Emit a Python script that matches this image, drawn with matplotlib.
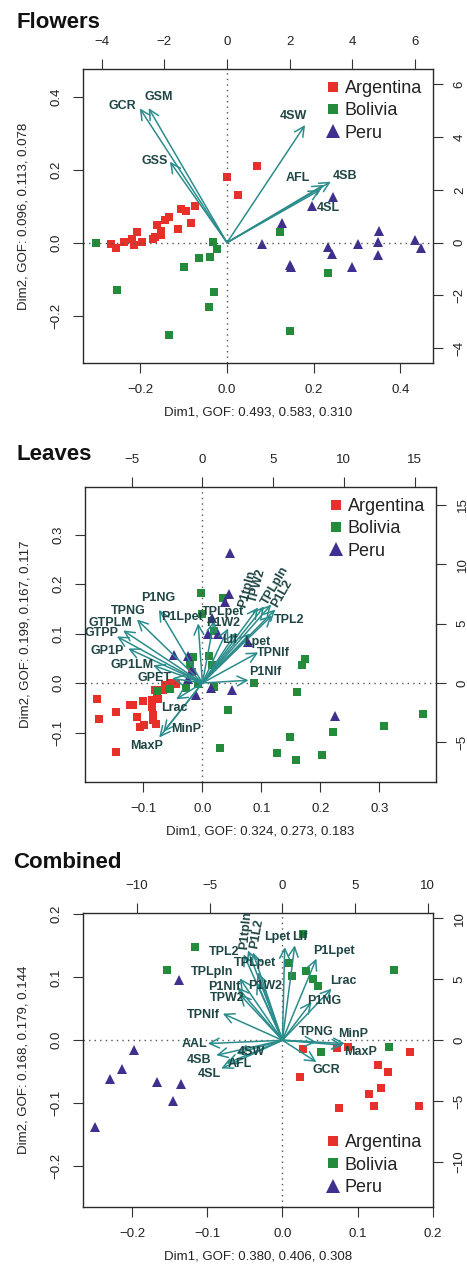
import numpy as np
import matplotlib
matplotlib.use('Agg')
import matplotlib.pyplot as plt
from matplotlib.patches import FancyArrowPatch
from matplotlib.lines import Line2D

plt.rcParams['font.family'] = ['Liberation Sans', 'DejaVu Sans']

FIG_W, FIG_H = 467, 1271

countries = ['Argentina', 'Bolivia', 'Peru']
country_colors = ['#e8302a', '#238b3a', '#3f2f8f']
country_markers = ['s', 's', '^']
arrow_color = '#2b8c8c'
label_color = '#1f4545'

# ---------------- Flowers ----------------
flw_arg = np.array([(0.000, 0.181), (0.069, 0.211), (0.026, 0.131), (-0.074, 0.100), (-0.095, 0.088),
                    (-0.106, 0.093), (-0.084, 0.053), (-0.114, 0.037), (-0.134, 0.071), (-0.143, 0.062),
                    (-0.162, 0.048), (-0.152, 0.033), (-0.153, 0.021), (-0.170, 0.010), (-0.166, 0.016),
                    (-0.195, 0.001), (-0.207, 0.030), (-0.220, 0.009), (-0.215, -0.007), (-0.237, 0.001),
                    (-0.256, -0.016), (-0.268, -0.003)])
flw_bol = np.array([(-0.301, 0.000), (-0.033, 0.001), (-0.022, -0.017), (-0.064, -0.042), (-0.040, -0.039),
                    (-0.100, -0.067), (-0.254, -0.130), (-0.029, -0.134), (-0.042, -0.176), (-0.134, -0.252),
                    (0.146, -0.242), (0.122, 0.028), (0.233, -0.082)])
flw_per = np.array([(0.244, 0.124), (0.195, 0.100), (0.127, 0.055), (0.080, -0.004), (0.145, -0.061),
                    (0.148, -0.066), (0.232, -0.011), (0.242, -0.031), (0.289, -0.068), (0.301, -0.005),
                    (0.351, 0.032), (0.349, 0.001), (0.348, -0.035), (0.434, 0.007), (0.448, -0.015)])
flw_vars = ['GCR', 'GSM', 'GSS', '4SW', 'AFL', '4SB', '4SL']
flw_loadings = np.array([(-2.78, 5.09), (-2.50, 5.10), (-1.82, 3.07), (2.49, 4.46), (3.09, 2.19),
                         (3.31, 2.31), (2.97, 2.00)])

# ---------------- Leaves ----------------
lv_arg = np.array([(-0.179, -0.033), (-0.175, -0.073), (-0.147, -0.059), (-0.147, -0.139), (-0.123, -0.045),
                   (-0.118, -0.045), (-0.111, -0.068), (-0.106, -0.089), (-0.099, -0.085), (-0.100, -0.036),
                   (-0.086, -0.035), (-0.086, -0.048), (-0.084, -0.065), (-0.083, -0.075), (-0.079, -0.082),
                   (-0.077, -0.028), (-0.075, -0.032), (-0.080, -0.015), (-0.066, -0.015), (-0.063, -0.005),
                   (-0.052, 0.000), (-0.018, 0.022), (-0.045, -0.003)])
lv_bol = np.array([(-0.003, 0.182), (0.035, 0.172), (-0.001, 0.140), (0.019, 0.106), (0.012, 0.055),
                   (-0.016, 0.053), (-0.021, 0.039), (0.016, 0.036), (-0.077, -0.016), (-0.055, -0.013),
                   (-0.028, -0.011), (-0.008, -0.003), (0.019, -0.009), (0.087, 0.000), (0.044, -0.054),
                   (0.030, -0.131), (0.161, -0.018), (0.169, 0.036), (0.174, 0.049), (0.149, -0.109),
                   (0.126, -0.141), (0.159, -0.156), (0.203, -0.145), (0.221, -0.099), (0.308, -0.086),
                   (0.374, -0.063)])
lv_per = np.array([(0.046, 0.263), (0.045, 0.179), (0.039, 0.164), (0.016, 0.132), (0.009, 0.100),
                   (0.027, 0.100), (0.078, 0.083), (-0.048, 0.056), (-0.025, 0.054), (-0.018, 0.026),
                   (-0.025, 0.009), (-0.010, -0.025), (0.015, -0.011), (0.050, -0.015), (0.225, -0.067)])
lv_vars = ['P1NG', 'TPNG', 'GTPLM', 'GTPP', 'GP1P', 'GP1LM', 'GPET', 'P1Lpet', 'TPLpet', 'P1W2',
           'Llf', 'Lpet', 'TPNlf', 'P1Nlf', 'TPL2', 'P1tpln', 'TPW2', 'TPLpln', 'P1L2', 'Lrac',
           'MinP', 'MaxP']
lv_loadings = np.array([(-3.07, 6.17), (-4.63, 5.35), (-5.60, 4.43), (-6.04, 3.92), (-5.24, 2.90),
                        (-3.49, 1.49), (-2.15, 0.39), (-0.30, 5.02), (0.83, 5.27), (1.82, 4.60),
                        (2.39, 4.26), (3.38, 4.18), (3.95, 2.58), (3.26, 0.23), (4.91, 5.69),
                        (3.94, 6.36), (4.37, 6.45), (4.86, 6.61), (5.15, 6.19), (-1.86, -1.37),
                        (-2.76, -4.12), (-3.05, -4.59)])

# ---------------- Combined ----------------
cb_arg = np.array([(0.028, -0.014), (0.073, -0.012), (0.087, -0.010), (0.024, -0.058), (0.127, -0.039),
                   (0.140, -0.051), (0.131, -0.076), (0.115, -0.085), (0.122, -0.104), (0.075, -0.107),
                   (0.170, -0.018), (0.182, -0.104)])
cb_bol = np.array([(0.028, 0.169), (-0.116, 0.148), (-0.154, 0.111), (0.009, 0.123), (0.013, 0.102),
                   (0.031, 0.110), (0.041, 0.097), (0.048, 0.086), (0.149, 0.112), (0.051, -0.018),
                   (0.142, -0.011)])
cb_per = np.array([(-0.138, 0.095), (-0.198, -0.016), (-0.214, -0.046), (-0.229, -0.062), (-0.167, -0.067),
                   (-0.135, -0.069), (-0.146, -0.096), (-0.249, -0.138)])
cb_vars = ['P1tpln', 'P1L2', 'TPL2', 'Lpet', 'Llf', 'P1Lpet', 'Lrac', 'P1NG', 'TPLpet', 'TPLpln',
           'P1Nlf', 'P1W2', 'TPW2', 'TPNlf', 'AAL', '4SB', '4SL', 'AFL', '4SW', 'TPNG', 'MinP',
           'MaxP', 'GCR']
cb_loadings = np.array([(-2.37, 7.38), (-2.03, 7.21), (-2.67, 7.05), (0.16, 7.65), (0.85, 7.79),
                        (2.34, 6.70), (3.38, 4.24), (2.00, 3.14), (-1.70, 5.57), (-2.94, 5.08),
                        (-3.08, 4.34), (-1.77, 4.75), (-2.94, 3.77), (-4.10, 2.19), (-5.13, -0.27),
                        (-4.55, -1.23), (-4.21, -2.32), (-3.86, -1.91), (-3.17, -1.09), (2.34, -0.14),
                        (4.30, -0.27), (4.18, -0.41), (2.34, -1.78)])

# label nudges (pixels from arrow tip) and rotations, layout only
flw_nudge = {'GCR': (-17, 2), 'GSM': (10, 11), 'GSS': (-15, 1), '4SW': (-12, 9), 'AFL': (-26, 7),
             '4SB': (14, 6), '4SL': (8, -18)}
lv_nudge = {'P1NG': (-1, 12), 'TPNG': (-9, 9), 'GTPLM': (-13, 7), 'GTPP': (-15, 3), 'GP1P': (-21, -2),
            'GP1LM': (-21, 0), 'GPET': (-17, 0), 'P1Lpet': (-16, 6), 'TPLpet': (9, 8), 'P1W2': (-5, 5),
            'Llf': (-6, -8), 'Lpet': (7, -9), 'TPNlf': (15, -1), 'P1Nlf': (17, 8), 'TPL2': (17, -5),
            'P1tpln': (-11, 19), 'TPW2': (-7, 21), 'TPLpln': (4, 19), 'P1L2': (7, 16), 'Lrac': (-2, -9),
            'MinP': (23, 3), 'MaxP': (-13, -9)}
lv_rot = {'P1tpln': 75, 'TPW2': 75, 'TPLpln': 60, 'P1L2': 60}
cb_nudge = {'P1tpln': (-2, 20), 'P1L2': (4, 19), 'TPL2': (-19, 2), 'Lpet': (-7, 10), 'Llf': (5, 8),
            'P1Lpet': (18, 8), 'Lrac': (12, 8), 'P1NG': (13, 1), 'TPLpet': (-3, 9), 'TPLpln': (-28, 6),
            'P1Nlf': (-13, 0), 'P1W2': (8, -4), 'TPW2': (-13, -4), 'TPNlf': (-20, -1), 'AAL': (-13, 0),
            '4SB': (-17, -5), '4SL': (-12, -5), 'AFL': (13, 0), '4SW': (15, 2), 'TPNG': (0, 10),
            'MinP': (8, 10), 'MaxP': (17, -7), 'GCR': (10, -8)}
cb_rot = {'P1tpln': 85, 'P1L2': 80}


def px_rect(x0, y0, x1, y1):
    return [x0 / FIG_W, 1 - y1 / FIG_H, (x1 - x0) / FIG_W, (y1 - y0) / FIG_H]


def style_ticks(axis_obj):
    axis_obj.tick_params(direction='out', length=7, width=0.8, labelsize=9.5, pad=8,
                         color='#333333', labelcolor='#222222')


def draw_panel(fig, box, title, title_xy, groups, var_names, loadings, nudges, rots,
               xlim, ylim, ratio, ticks, sec_ticks, xlabel, ylabel, legend_loc):
    ax = fig.add_axes(px_rect(*box))
    ax.set_xlim(xlim)
    ax.set_ylim(ylim)
    for pts, c, m, name in zip(groups, country_colors, country_markers, countries):
        ms = 7.2 if m == '^' else 5.4
        ax.plot(pts[:, 0], pts[:, 1], ls='none', marker=m, ms=ms, color=c, mew=0, label=name)
    ax.axhline(0, color='#555555', lw=1, ls=(0, (1, 3)))
    ax.axvline(0, color='#555555', lw=1, ls=(0, (1, 3)))
    ax.set_xticks(ticks[0])
    ax.set_yticks(ticks[1])
    style_ticks(ax)
    for lab in ax.get_yticklabels():
        lab.set_rotation(90)
        lab.set_va('center')
    for sp in ax.spines.values():
        sp.set_linewidth(1.0)
        sp.set_color('#2a2a2a')
    ax.set_xlabel(xlabel, fontsize=9.5, labelpad=8, color='#222222')
    ax.set_ylabel(ylabel, fontsize=9.5, labelpad=15, color='#222222')

    handles = [Line2D([], [], ls='none', marker=m, ms=(9.5 if m == '^' else 7), color=c, mew=0)
               for c, m in zip(country_colors, country_markers)]
    ax.legend(handles, countries, loc=legend_loc, frameon=False, fontsize=13, borderpad=0,
              borderaxespad=0.6, handlelength=0.6, handletextpad=0.35, labelspacing=0.3,
              labelcolor='#222222')

    # secondary axes for the variable loadings (top / right scales)
    ax2 = fig.add_axes(px_rect(*box), label=title + '_loadings')
    ax2.set_xlim(xlim[0] * ratio, xlim[1] * ratio)
    ax2.set_ylim(ylim[0] * ratio, ylim[1] * ratio)
    ax2.patch.set_visible(False)
    for sp in ax2.spines.values():
        sp.set_visible(False)
    ax2.xaxis.tick_top()
    ax2.yaxis.tick_right()
    ax2.set_xticks(sec_ticks)
    ax2.set_yticks(sec_ticks)
    style_ticks(ax2)
    for lab in ax2.get_yticklabels():
        lab.set_rotation(90)
        lab.set_va('center')

    for name, (vx, vy) in zip(var_names, loadings):
        ax2.add_patch(FancyArrowPatch((0, 0), (vx, vy), arrowstyle='->,head_length=0.7,head_width=0.35',
                                      mutation_scale=10, color=arrow_color, lw=1.1,
                                      shrinkA=0, shrinkB=0))
        ax2.annotate(name, xy=(vx, vy), xytext=nudges.get(name, (0, 0)), textcoords='offset pixels',
                     ha='center', va='center', rotation=rots.get(name, 0), fontsize=9,
                     fontweight='bold', color=label_color,
                     family=['Liberation Sans Narrow', 'Liberation Sans', 'DejaVu Sans'])

    fig.text(title_xy[0] / FIG_W, 1 - title_xy[1] / FIG_H, title, fontsize=16, fontweight='bold',
             ha='left', va='center', color='#111111')
    return ax, ax2


def main():
    fig = plt.figure(figsize=(FIG_W / 100, FIG_H / 100), dpi=100)

    draw_panel(fig, (83, 69, 433, 363), 'Flowers', (17, 22), [flw_arg, flw_bol, flw_per],
               flw_vars, flw_loadings, flw_nudge, {},
               (-0.332, 0.475), (-0.330, 0.476), 13.83,
               ([-0.2, 0.0, 0.2, 0.4], [-0.2, 0.0, 0.2, 0.4]), [-4, -2, 0, 2, 4, 6],
               'Dim1, GOF: 0.493, 0.583, 0.310', 'Dim2, GOF: 0.096, 0.113, 0.078', 'upper right')

    draw_panel(fig, (85, 487, 436, 782), 'Leaves', (17, 455), [lv_arg, lv_bol, lv_per],
               lv_vars, lv_loadings, lv_nudge, lv_rot,
               (-0.199, 0.396), (-0.200, 0.396), 41.7,
               ([-0.1, 0.0, 0.1, 0.2, 0.3], [-0.1, 0.0, 0.1, 0.2, 0.3]), [-5, 0, 5, 10, 15],
               'Dim1, GOF: 0.324, 0.273, 0.183', 'Dim2, GOF: 0.199, 0.167, 0.117', 'upper right')

    draw_panel(fig, (83, 913, 433, 1207), 'Combined', (13, 863), [cb_arg, cb_bol, cb_per],
               cb_vars, cb_loadings, cb_nudge, cb_rot,
               (-0.2655, 0.2005), (-0.2646, 0.202), 51.7,
               ([-0.2, -0.1, 0.0, 0.1, 0.2], [-0.2, -0.1, 0.0, 0.1, 0.2]), [-10, -5, 0, 5, 10],
               'Dim1, GOF: 0.380, 0.406, 0.308', 'Dim2, GOF: 0.168, 0.179, 0.144', 'lower right')

    fig.savefig('out.png', dpi=100)


if __name__ == '__main__':
    main()
